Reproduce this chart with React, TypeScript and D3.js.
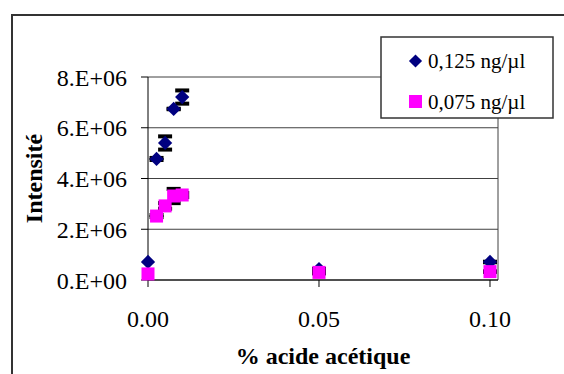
import * as d3 from 'd3'

// % acide acétique
const acidLevels = [0, 0.0025, 0.005, 0.0075, 0.01, 0.05, 0.1]
const intensity125 = [0.71e6, 4.77e6, 5.4e6, 6.74e6, 7.21e6, 0.43e6, 0.71e6]
const intensity075 = [0.24e6, 2.52e6, 2.92e6, 3.31e6, 3.35e6, 0.3e6, 0.33e6]
const err125 = [0, 0.08e6, 0.3e6, 0.05e6, 0.3e6, 0.05e6, 0.05e6]
const err075 = [0, 0.08e6, 0.15e6, 0.32e6, 0.12e6, 0.08e6, 0.05e6]
const yTicks = [0, 2e6, 4e6, 6e6, 8e6]
const xTicks = [0, 0.05, 0.1]
const seriesNames = ['0,125 ng/µl', '0,075 ng/µl']

const W = 564
const H = 374
const left = 148
const right = 498
const top = 77
const bottom = 280

const fmtY = (v: number) => (v === 0 ? '0.E+00' : `${v / 1e6}.E+06`)

export default function App() {
  const x = d3.scaleLinear().domain([0, 0.10234]).range([left, right])
  const y = d3.scaleLinear().domain([0, 8e6]).range([bottom, top])
  const diamond = d3.symbol(d3.symbolDiamond2, 130)()!
  const font = "'Liberation Serif', 'Times New Roman', 'DejaVu Serif', serif"

  const errBars = (vals: number[], errs: number[], key: string) =>
    acidLevels.map((a, i) =>
      errs[i] > 0 ? (
        <g key={key + i} stroke="#000" strokeWidth={3}>
          <line x1={x(a)} x2={x(a)} y1={y(vals[i] - errs[i])} y2={y(vals[i] + errs[i])} />
          <line x1={x(a) - 7} x2={x(a) + 7} y1={y(vals[i] + errs[i]) + 1} y2={y(vals[i] + errs[i]) + 1} strokeWidth={4} />
          <line x1={x(a) - 7} x2={x(a) + 7} y1={y(vals[i] - errs[i]) - 1} y2={y(vals[i] - errs[i]) - 1} strokeWidth={4} />
        </g>
      ) : null
    )

  return (
    <svg
      width={W}
      height={H}
      style={{ position: 'absolute', left: 0, top: 0, background: '#fff', fontFamily: font }}
    >
      {/* chart frame */}
      <rect x={12} y={15} width={W} height={H} fill="#fff" stroke="#333" strokeWidth={2} />

      {/* gridlines */}
      {yTicks.map((t) => (
        <line key={t} x1={left} x2={right} y1={y(t)} y2={y(t)} stroke="#404040" strokeWidth={1} />
      ))}
      <line x1={right} x2={right} y1={top} y2={bottom} stroke="#404040" />

      {/* axes */}
      <line x1={left} x2={left} y1={top} y2={bottom} stroke="#000" />
      <line x1={left} x2={right} y1={bottom} y2={bottom} stroke="#000" />
      {yTicks.map((t) => (
        <g key={'yt' + t}>
          <line x1={left - 7} x2={left} y1={y(t)} y2={y(t)} stroke="#000" />
          <text x={127} y={y(t) + 8.5} textAnchor="end" fontSize={24}>
            {fmtY(t)}
          </text>
        </g>
      ))}
      {xTicks.map((t) => (
        <g key={'xt' + t}>
          <line x1={x(t)} x2={x(t)} y1={bottom} y2={bottom + 7} stroke="#000" />
          <text x={x(t)} y={327} textAnchor="middle" fontSize={24}>
            {t.toFixed(2)}
          </text>
        </g>
      ))}

      {/* axis titles */}
      <text transform="translate(42,178.5) rotate(-90)" textAnchor="middle" fontSize={24} fontWeight="bold">
        Intensité
      </text>
      <text x={(left + right) / 2} y={364} textAnchor="middle" fontSize={24} fontWeight="bold">
        % acide acétique
      </text>

      {/* series 0,125 */}
      {errBars(intensity125, err125, 'e1')}
      {acidLevels.map((a, i) => (
        <path key={'d' + i} d={diamond} transform={`translate(${x(a)},${y(intensity125[i])})`} fill="#000080" />
      ))}

      {/* series 0,075 */}
      {errBars(intensity075, err075, 'e2')}
      {acidLevels.map((a, i) => (
        <rect key={'s' + i} x={x(a) - 6.5} y={y(intensity075[i]) - 6.5} width={13} height={13} fill="#ff00ff" />
      ))}

      {/* legend */}
      <g>
        <rect x={381} y={37} width={172} height={81} fill="#fff" stroke="#333" strokeWidth={1.5} />
        <path d={d3.symbol(d3.symbolDiamond2, 110)()!} transform="translate(415.5,61)" fill="#000080" />
        <text x={428} y={68} fontSize={21}>
          {seriesNames[0]}
        </text>
        <rect x={409} y={95} width={13} height={13} fill="#ff00ff" />
        <text x={428} y={109} fontSize={21}>
          {seriesNames[1]}
        </text>
      </g>
    </svg>
  )
}
